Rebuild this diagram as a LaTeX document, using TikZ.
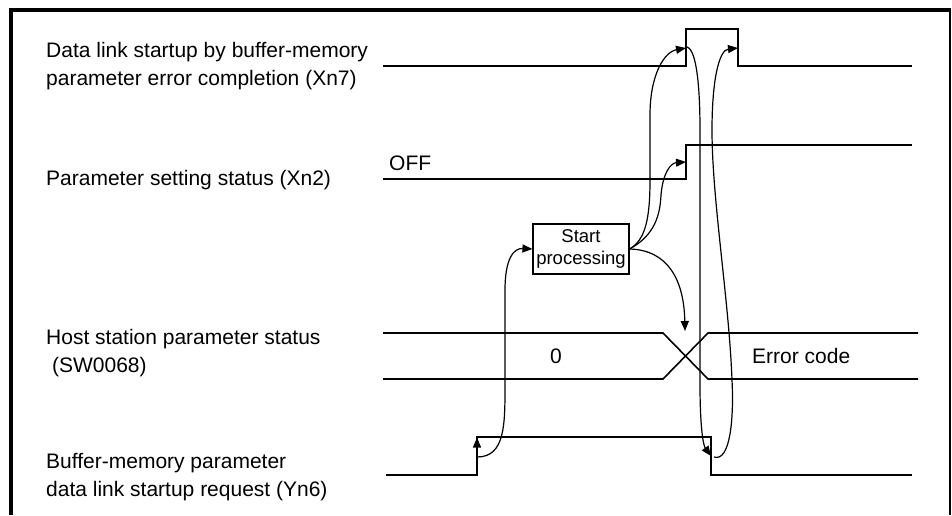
\documentclass[tikz,border=0pt]{standalone}
\usepackage{fontspec}
\setmainfont{Liberation Sans}
\usetikzlibrary{arrows.meta}
\begin{document}
\begin{tikzpicture}[x=1pt,y=-1pt,
  sig/.style={line width=1.6pt},
  flow/.style={line width=1.2pt,-{Triangle[length=10pt,width=8pt]}},
  lbl/.style={anchor=west,inner sep=0pt,align=left,font=\fontsize{21}{28}\selectfont},
  val/.style={inner sep=0pt,font=\fontsize{21}{25}\selectfont},
  procbox/.style={draw,line width=1.2pt,minimum width=96pt,minimum height=50pt,inner sep=0pt,align=center,font=\fontsize{18.5}{22}\selectfont}]
\useasboundingbox (0,0) rectangle (952,515);
% frame
\draw[line width=4pt] (11,515) -- (11,9.5) -- (951,9.5);
\draw[line width=2.5pt] (950,9.5) -- (950,515);
% labels
\node[lbl] (l1) at (46,66.5) {Data link startup by buffer-memory\\parameter error completion (Xn7)};
\node[lbl] (l2) at (46,180) {Parameter setting status (Xn2)};
\node[lbl] (l3) at (46,353) {Host station parameter status\\\hspace{0.28em}(SW0068)};
\node[lbl] (l4) at (46,477.5) {Buffer-memory parameter\\data link startup request (Yn6)};
% coordinates
\coordinate (x7r) at (686,48);
\coordinate (x7f) at (738,48);
\coordinate (x2r) at (686,162);
\coordinate (crs) at (685,331);
\coordinate (y6r) at (477,457);
\coordinate (y6f) at (711,456);
% Xn7
\draw[sig] (383,66) -- (686,66) -- (686,29) -- (738,29) -- (738,66) -- (912,66);
% Xn2
\draw[sig] (383,179) -- (686,179) -- (686,145) -- (912,145);
\node[val,anchor=west] (off) at (389,163) {OFF};
% SW0068
\draw[sig] (383,333) -- (663,333) -- (708,379) -- (918,379);
\draw[sig] (383,379) -- (663,379) -- (708,333) -- (918,333);
\node[val] (zero) at (556,356) {0};
\node[val,anchor=west] (err) at (752,356) {Error code};
% Yn6
\draw[sig] (386,475) -- (477,475) -- (477,437) -- (711,437) -- (711,475) -- (912,475);
\draw[flow] (477,460) -- (477,437.5);
% box
\node[procbox] (box) at (581,249) {Start\\processing};
% arrows
\draw[flow] (y6r) .. controls (505,457) and (505,425) .. (505,385) -- (505,290) .. controls (505,258) and (514,248) .. (box.west);
\draw[flow] (box.east) .. controls (645,240) and (650,220) .. (650,180) -- (650,115) .. controls (650,75) and (664,52) .. (x7r);
\draw[flow] (box.east) .. controls (655,235) and (660,215) .. (661,195) .. controls (663,172) and (671,163) .. (x2r);
\draw[flow] (box.east) .. controls (668,250) and (684,280) .. (crs);
\draw[flow] (687,47) .. controls (697,50) and (700,90) .. (700,130) -- (700,385) .. controls (700,425) and (703,445) .. (y6f);
\draw[flow] (714,457) .. controls (730,462) and (734,420) .. (732,380) .. controls (729,300) and (712,200) .. (712,130) .. controls (712,80) and (719,50) .. (x7f);
\end{tikzpicture}
\end{document}
